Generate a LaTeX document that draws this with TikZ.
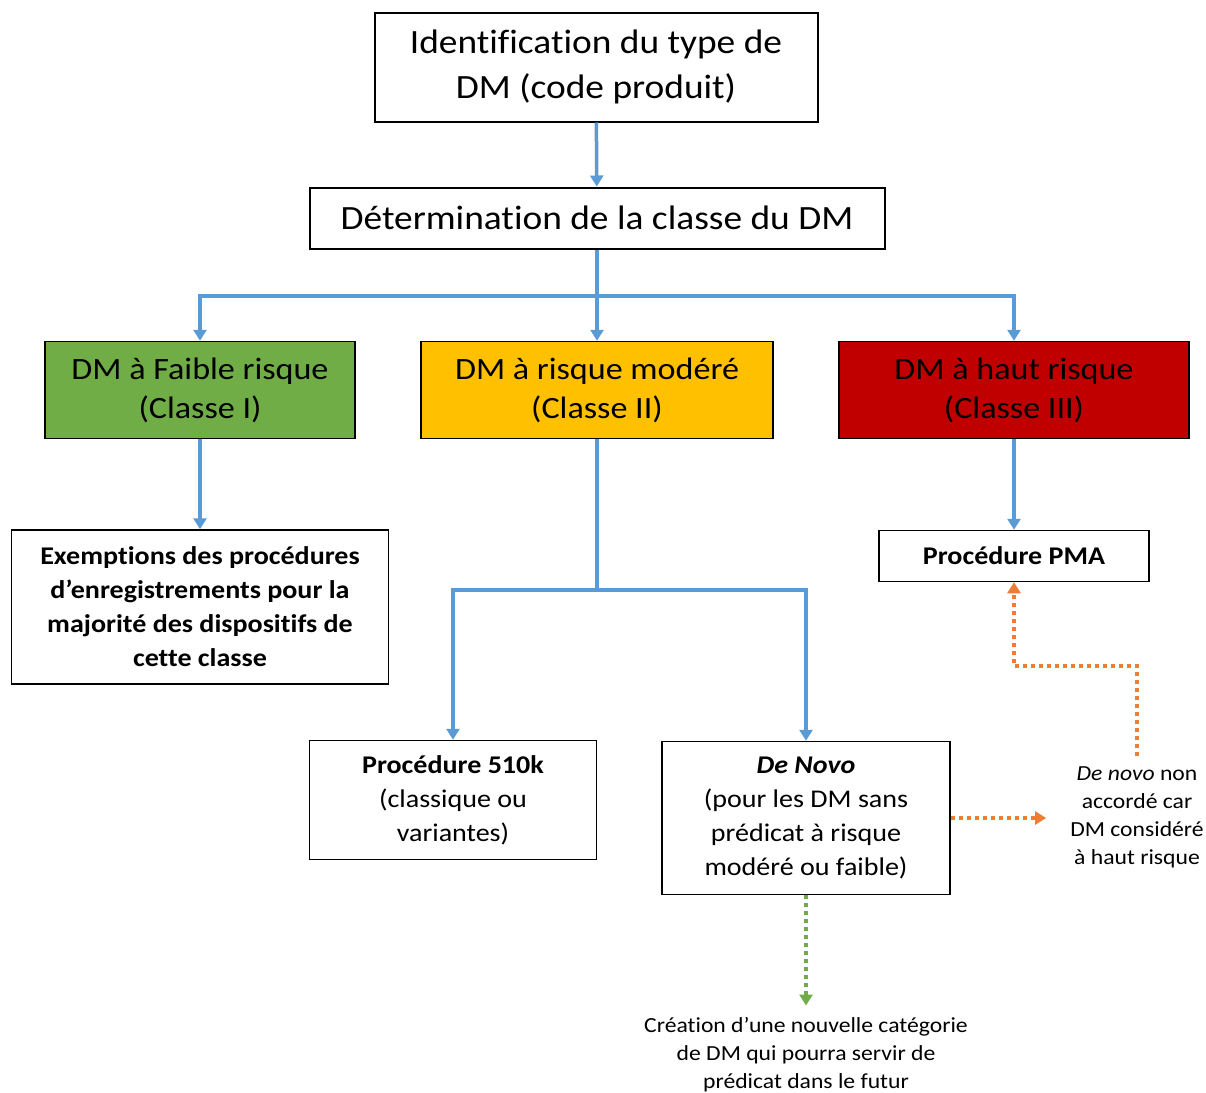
\documentclass[tikz,border=0pt]{standalone}
\usepackage{fontspec}
\setmainfont{Carlito}[FakeStretch=1.1,Ligatures=NoCommon]
\usetikzlibrary{arrows.meta}
\definecolor{flowblue}{HTML}{5B9BD5}
\definecolor{lowgreen}{HTML}{70AD47}
\definecolor{midyellow}{HTML}{FFC000}
\definecolor{highred}{HTML}{C00000}
\definecolor{noteorange}{HTML}{ED7D31}
\begin{document}
\begin{tikzpicture}[x=1pt,y=-1pt]
\tikzstyle{every node}=[inner sep=0pt,align=center]
\tikzstyle{bigbox}=[draw,line width=2pt,font=\fontsize{34}{45}\selectfont]
\tikzstyle{riskbox}=[draw,line width=1.5pt,minimum width=310pt,minimum height=97pt,font=\fontsize{31}{39}\selectfont]
\tikzstyle{procbox}=[draw,line width=1.5pt,font=\fontsize{25.5}{34}\selectfont]
\tikzstyle{note}=[font=\fontsize{21.5}{28}\selectfont]
\tikzstyle{flow}=[flowblue,line width=3.5pt,-{Triangle[width=13pt,length=11pt]}]
\tikzstyle{flowline}=[flowblue,line width=3.5pt]
\tikzstyle{dots}=[line width=3.5pt,dash pattern=on 4pt off 4pt,-{Triangle[width=13pt,length=11pt]}]
\useasboundingbox (0,0) rectangle (1206,1092);
\node[style=bigbox,minimum width=443pt,minimum height=109pt] (ident) at (596,67) {Identification du type de\\DM (code produit)};
\node[style=bigbox,minimum width=575pt,minimum height=61pt] (det) at (597,218) {Détermination de la classe du DM};
\node[style=riskbox,fill=lowgreen] (faible) at (200,390) {DM à Faible risque\\(Classe I)};
\node[style=riskbox,fill=midyellow,minimum width=352pt] (modere) at (597,390) {DM à risque modéré\\(Classe II)};
\node[style=riskbox,fill=highred,minimum width=350pt] (haut) at (1014,390) {DM à haut risque\\(Classe III)};
\node[style=procbox,minimum width=377pt,minimum height=154pt,font=\bfseries\fontsize{25.5}{34}\selectfont] (exempt) at (200,607) {Exemptions des procédures\\d’enregistrements pour la\\majorité des dispositifs de\\cette classe};
\node[style=procbox,minimum width=287pt,minimum height=119pt] (k510) at (453,800) {\textbf{Procédure 510k}\\(classique ou\\variantes)};
\node[style=procbox,minimum width=288pt,minimum height=153pt] (novo) at (806,818) {\textbf{\textit{De Novo}}\\(pour les DM sans\\prédicat à risque\\modéré ou faible)};
\node[style=procbox,minimum width=270pt,minimum height=51pt] (pma) at (1014,556) {\textbf{Procédure PMA}};
\node[style=note] (refus) at (1137,817) {\textit{De novo} non\\accordé car\\DM considéré\\à haut risque};
\node[style=note] (creation) at (806,1055) {Création d’une nouvelle catégorie\\de DM qui pourra servir de\\prédicat dans le futur};
\coordinate (split1) at (597,296);
\coordinate (split2) at (597,590);
\coordinate (bend) at (1137,666);
\draw[style=flow] (ident) -- (det);
\draw[style=flowline] (det) -- (split1);
\draw[style=flow] (split1) -| (faible);
\draw[style=flow] (split1) -- (modere);
\draw[style=flow] (split1) -| (haut);
\draw[style=flow] (faible) -- (exempt);
\draw[style=flow] (haut) -- (pma);
\draw[style=flowline] (modere) -- (split2);
\draw[style=flow] (split2) -| (k510);
\draw[style=flow] (split2) -| (novo);
% notes en pointille
\draw[style=dots,noteorange,shorten >=24pt] (novo) -- (refus.west |- novo);
\draw[style=dots,noteorange] (refus.north) ++(0,-10) -- (bend) -| (pma);
\draw[style=dots,lowgreen,shorten >=12pt] (novo) -- (creation);
\end{tikzpicture}
\end{document}
